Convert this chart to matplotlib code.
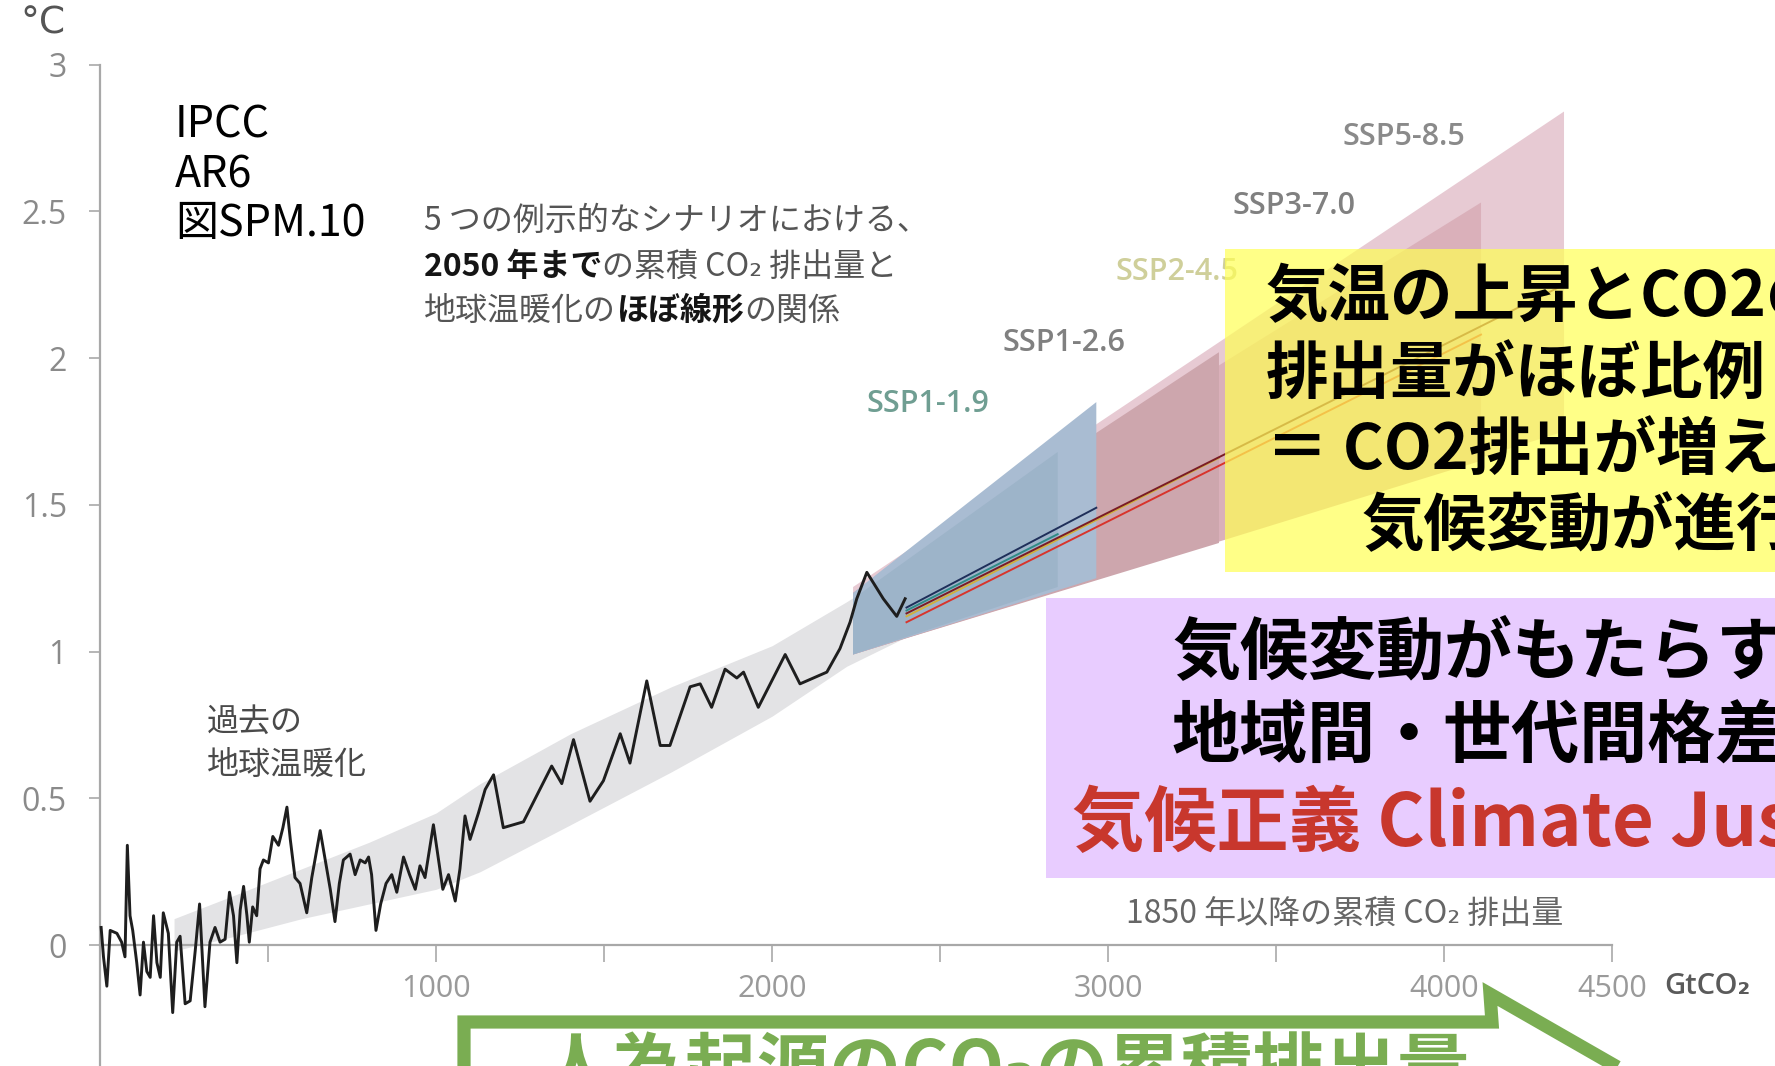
"""IPCC AR6 SPM.10 style chart: warming vs cumulative CO2, with Japanese call-out boxes"""

import matplotlib
matplotlib.use("Agg")
import matplotlib.pyplot as plt
from matplotlib.patches import Polygon, Rectangle, PathPatch
from matplotlib.path import Path

plt.rcParams['font.family'] = ['Noto Sans CJK JP', 'DejaVu Sans']

# historical warming vs cumulative emissions (GtCO2, degC)
hist_G = [3, 10, 20, 30, 50, 64, 74, 81, 89, 97, 109, 119, 129, 139, 149, 159, 169, 179, 188, 203,
          216, 228, 238, 253, 268, 283, 296, 312, 327, 342, 357, 372, 385, 397, 407, 417, 427, 437, 444, 454,
          466, 476, 486, 501, 514, 531, 544, 556, 566, 580, 595, 615, 630, 655, 670, 685, 699, 712, 724, 744,
          759, 774, 789, 799, 808, 821, 835, 851, 868, 883, 903, 921, 938, 952, 967, 992, 1020, 1037, 1057, 1071,
          1086, 1101, 1126, 1146, 1171, 1200, 1260, 1344, 1374, 1409, 1458, 1498, 1548, 1577, 1627, 1667, 1696, 1756, 1786, 1820,
          1860, 1895, 1915, 1959, 2039, 2083, 2163, 2202, 2232, 2252, 2282, 2331, 2371, 2396]
hist_T = [0.06, -0.04, -0.14, 0.05, 0.04, 0.01, -0.04, 0.34, 0.10, 0.05, -0.06, -0.17, 0.01, -0.09, -0.11, 0.10, -0.06, -0.11, 0.11, 0.04,
          -0.23, 0.01, 0.03, -0.20, -0.19, -0.02, 0.14, -0.21, 0.01, 0.06, 0.01, 0.02, 0.18, 0.10, -0.06, 0.12, 0.20, 0.10, 0.01, 0.13,
          0.10, 0.26, 0.29, 0.28, 0.37, 0.34, 0.40, 0.47, 0.36, 0.23, 0.21, 0.11, 0.23, 0.39, 0.29, 0.19, 0.08, 0.21, 0.29, 0.31,
          0.24, 0.29, 0.28, 0.30, 0.24, 0.05, 0.14, 0.21, 0.24, 0.18, 0.30, 0.24, 0.19, 0.27, 0.23, 0.41, 0.19, 0.24, 0.15, 0.26,
          0.44, 0.36, 0.45, 0.53, 0.58, 0.40, 0.42, 0.61, 0.55, 0.70, 0.49, 0.56, 0.72, 0.62, 0.90, 0.68, 0.68, 0.88, 0.89, 0.81,
          0.94, 0.91, 0.93, 0.81, 0.99, 0.89, 0.93, 1.01, 1.10, 1.18, 1.27, 1.18, 1.12, 1.18]

# grey uncertainty band of the historical estimate
band_G = [220, 400, 600, 800, 1000, 1131, 1400, 1700, 2000, 2222, 2400]
band_lo = [-0.02, 0.03, 0.09, 0.14, 0.19, 0.25, 0.41, 0.59, 0.78, 0.95, 1.05]
band_hi = [0.09, 0.17, 0.26, 0.35, 0.45, 0.55, 0.72, 0.88, 1.02, 1.17, 1.30]

# scenario fans to 2050
ssp_names = ['SSP1-1.9', 'SSP1-2.6', 'SSP2-4.5', 'SSP3-7.0', 'SSP5-8.5']
fan_start_G = 2241
fan_start_lo = [0.99, 0.99, 0.99, 0.99, 0.99]
fan_start_hi = [1.18, 1.20, 1.20, 1.20, 1.22]
fan_end_G = [2850, 2965, 3330, 4110, 4357]
fan_end_lo = [1.22, 1.25, 1.37, 1.65, 1.75]
fan_end_hi = [1.68, 1.85, 2.02, 2.53, 2.84]
med_start_G = 2400
med_start_T = [1.14, 1.15, 1.12, 1.10, 1.13]
med_end_T = [1.40, 1.49, 1.66, 2.08, 2.25]

fan_colors = ['#9db4c9', '#a9bcd2', '#cda6ad', '#dab0ba', '#e7cad3']
med_colors = ['#2f8a86', '#1f2f5a', '#d2b13c', '#d8342c', '#7a1c26']
label_colors = ['#6f9e92', '#808080', '#cfcf9a', '#808080', '#8a8a8a']
label_px = [(928, 404), (1064, 343), (1177, 272), (1294, 206), (1404, 137)]

x_ticks = [1000, 2000, 3000, 4000, 4500]
x_tick_labels = ['1000', '2000', '3000', '4000', '4500']
x_minor = [500, 1500, 2500, 3500]
y_ticks = [0, 0.5, 1, 1.5, 2, 2.5, 3]
y_tick_labels = ['0', '0.5', '1', '1.5', '2', '2.5', '3']

W, H = 1775, 1066


def fxy(px, py):
    return px / W, 1 - py / H


def draw_runs(fig, px, py, runs, size):
    """draw a line of text made of several styled pieces, left to right"""
    renderer = fig.canvas.get_renderer()
    x = px
    for s, weight, color in runs:
        t = fig.text(*fxy(x, py), s, fontsize=size, fontweight=weight, color=color,
                     ha='left', va='baseline', zorder=2)
        x += t.get_window_extent(renderer).width


fig = plt.figure(figsize=(W / 100, H / 100), dpi=100)
ax = fig.add_axes([0, 0, 1, 1])
ax.set_xlim(-298, 4985)
ax.set_ylim(-0.412, 3.22)

# band, fans, lines
ax.fill_between(band_G, band_lo, band_hi, color='#e3e3e5', lw=0, zorder=1)
for i in reversed(range(len(ssp_names))):
    poly = Polygon([(fan_start_G, fan_start_lo[i]), (fan_end_G[i], fan_end_lo[i]),
                    (fan_end_G[i], fan_end_hi[i]), (fan_start_G, fan_start_hi[i])],
                   closed=True, facecolor=fan_colors[i], edgecolor='none', zorder=2)
    ax.add_patch(poly)
for i in range(len(ssp_names)):
    ax.plot([med_start_G, fan_end_G[i]], [med_start_T[i], med_end_T[i]],
            color=med_colors[i], lw=1.4, zorder=3)
ax.plot(hist_G, hist_T, color='#1e1e1e', lw=2.1, zorder=4)

for i, name in enumerate(ssp_names):
    ax.text(*fxy(*label_px[i]), name, transform=fig.transFigure, ha='center', va='center',
            fontsize=22, fontweight='semibold', family='Open Sans', color=label_colors[i], zorder=5)

# axes styling
for s in ['top', 'right']:
    ax.spines[s].set_visible(False)
ax.spines['left'].set_position(('data', 0))
ax.spines['bottom'].set_position(('data', 0))
ax.spines['left'].set_bounds(-0.412, 3)
ax.spines['bottom'].set_bounds(0, 4500)
for s in ['left', 'bottom']:
    ax.spines[s].set_color('#a8a8a8')
    ax.spines[s].set_linewidth(1.6)
ax.set_xticks(x_ticks)
ax.set_xticklabels(x_tick_labels)
ax.set_xticks(x_minor, minor=True)
ax.set_yticks(y_ticks)
ax.set_yticklabels(y_tick_labels)
ax.tick_params(axis='x', which='both', direction='out', length=12, width=1.3, color='#b0b0b0',
               pad=9, labelsize=22, labelcolor='#9a9a9a')
ax.tick_params(axis='y', direction='out', length=8, width=1.3, color='#b0b0b0',
               pad=16, labelsize=23, labelcolor='#8a8a8a')
for lbl in ax.get_xticklabels() + ax.get_yticklabels():
    lbl.set_fontfamily('Open Sans')
ax.set_facecolor('white')

fig.text(*fxy(20, 23), '°C', fontsize=27, color='#555555', ha='left', va='center', family='DejaVu Sans')
fig.text(*fxy(1664, 987), 'GtCO₂', fontsize=21, color='#5a5a5a', ha='left', va='center',
         family=['Open Sans', 'DejaVu Sans'], fontweight='semibold')

# figure reference
for j, line in enumerate(['IPCC', 'AR6', '図SPM.10']):
    fig.text(*fxy(175, [137, 187, 236][j]), line, fontsize=31, color='black', ha='left', va='baseline')

# grey description
grey = '#555555'
dark = '#151515'
draw_runs(fig, 424, 230, [('5 つの例示的なシナリオにおける、', 'normal', grey)], 23)
draw_runs(fig, 424, 276, [('2050 年まで', 'bold', dark), ('の累積 CO₂ 排出量と', 'normal', grey)], 23)
draw_runs(fig, 424, 320, [('地球温暖化の', 'normal', grey), ('ほぼ線形', 'bold', dark), ('の関係', 'normal', grey)], 23)

fig.text(*fxy(207, 731), '過去の', fontsize=23, color='#4a4a4a', ha='left', va='baseline')
fig.text(*fxy(207, 774), '地球温暖化', fontsize=23, color='#4a4a4a', ha='left', va='baseline')
fig.text(*fxy(1126, 923), '1850 年以降の累積 CO₂ 排出量', fontsize=23, color='#666666',
         ha='left', va='baseline')

# yellow call-out
fig.patches.append(Rectangle(fxy(1225, 572), (W - 1225) / W, (572 - 249) / H,
                             transform=fig.transFigure, facecolor='#ffff55', alpha=0.7,
                             edgecolor='none', zorder=1))
yl = ['気温の上昇とCO2の', '排出量がほぼ比例し', '＝ CO2排出が増えるほど', '気候変動が進行する']
yx = [1266, 1266, 1266, 1362]
yb = [316, 393, 469, 545]
for j in range(4):
    fig.text(*fxy(yx[j], yb[j]), yl[j], fontsize=45, fontweight='bold', color='black',
             ha='left', va='baseline', zorder=3)

# purple call-out
fig.patches.append(Rectangle(fxy(1046, 878), (W - 1046) / W, (878 - 598) / H,
                             transform=fig.transFigure, facecolor='#e8ccff',
                             edgecolor='none', zorder=1))
fig.text(*fxy(1172, 673), '気候変動がもたらす', fontsize=49, fontweight='bold', color='black',
         ha='left', va='baseline', zorder=3)
fig.text(*fxy(1172, 757), '地域間・世代間格差', fontsize=49, fontweight='bold', color='black',
         ha='left', va='baseline', zorder=3)
fig.text(*fxy(1072, 846), '気候正義 Climate Justice', fontsize=52, fontweight='bold', color='#c8372d',
         ha='left', va='baseline', zorder=3)

# green call-out pointing at the x axis
verts = [fxy(464, 1080), fxy(464, 1022), fxy(1492, 1022), fxy(1490, 994), fxy(1640, 1080)]
fig.patches.append(PathPatch(Path(verts), transform=fig.transFigure, facecolor='none',
                             edgecolor='#7aad52', lw=9.5, joinstyle='miter', zorder=2))
fig.text(*fxy(540, 1093), '人為起源のCO₂の累積排出量', fontsize=52, fontweight='bold',
         color='#7aad52', ha='left', va='baseline', zorder=3)

fig.savefig('out.png', dpi=100)
